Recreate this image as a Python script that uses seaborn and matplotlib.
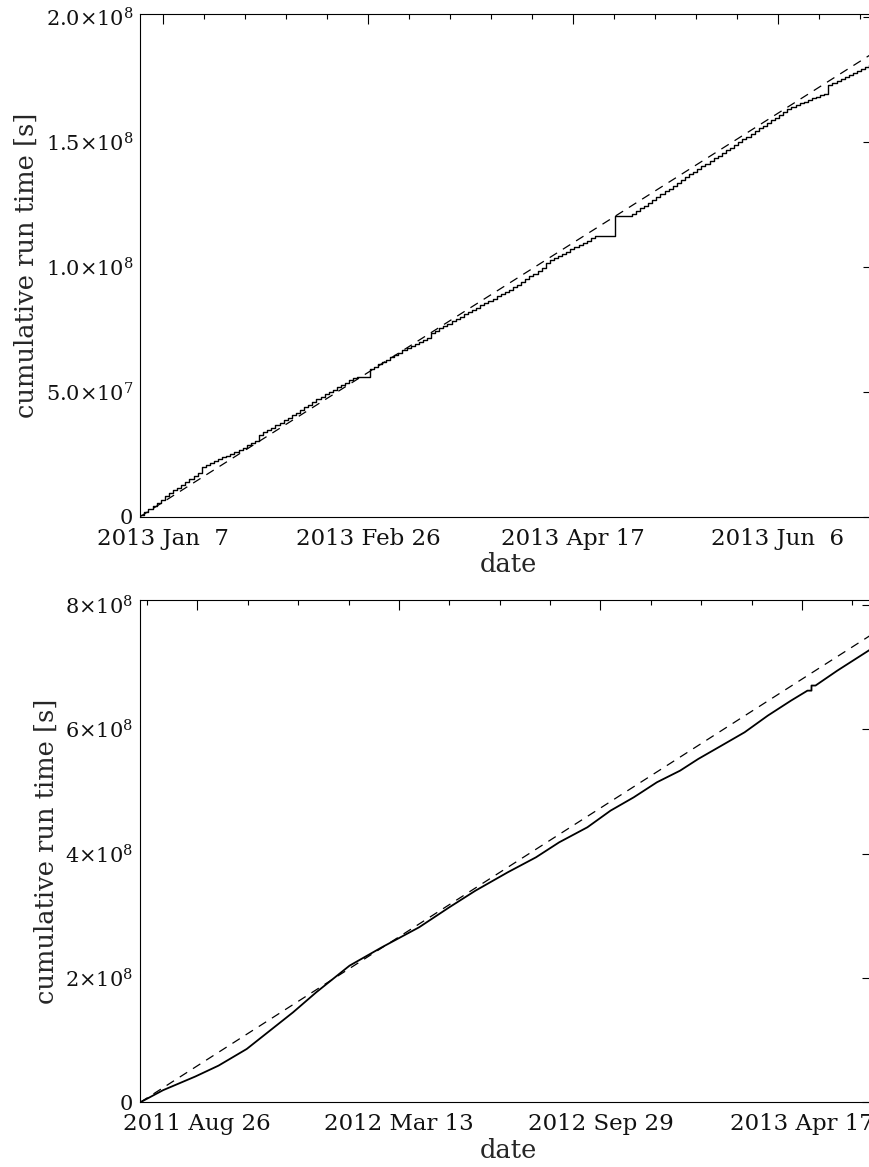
import numpy as np
import pandas as pd
import matplotlib
matplotlib.use("Agg")
import matplotlib.pyplot as plt
import matplotlib.dates as mdates
from matplotlib.ticker import MultipleLocator, FixedLocator, FuncFormatter
import seaborn as sns

# ---------------- data ----------------
# Top panel: run time added per day (units of 1e6 s), one value per day starting 2013-01-01 09:00
top_start = "2013-01-01 09:00"
top_daily_run_1e6 = [
    0.6,
    1.3, 1.2, 1.3, 1.2, 1.2, 1.3, 1.2,
    1.2, 1.1, 1.2, 1.2, 1.1, 1.2, 1.2,
    2.4,
    0.8, 0.7, 0.8, 0.7, 0.8, 0.7, 0.8, 0.7, 0.8,
    0.9, 0.9, 0.9, 0.9,
    2.4,
    1.0, 0.9, 1.0, 1.0, 0.9, 1.0, 1.0,
    1.1, 1.0, 1.1, 1.0, 1.1, 1.0, 1.1, 1.0,
    1.0, 0.9, 1.0, 0.9, 1.0, 0.9, 1.0, 0.9,
    0.2, 0.0, 0.0,
    3.4,
    0.9, 1.0, 0.9, 0.9, 1.0, 0.9, 0.9, 1.0, 0.9,
    0.8, 0.8, 0.8, 0.8, 0.8,
    1.9,
    0.9, 1.0, 0.9, 1.0, 0.9, 1.0, 0.9,
    1.0, 0.9,
    0.9, 0.8, 1.0, 0.9, 0.9, 0.8, 1.0, 0.9, 0.9, 0.8, 1.0, 0.9,
    1.1, 1.2, 1.1, 1.1, 1.2, 1.1,
    2.1,
    0.9, 0.9, 0.9, 0.8, 0.9, 0.9, 0.9, 0.9, 0.8, 0.9, 0.9, 0.9,
    0.0, 0.0, 0.0, 0.0,
    8.2,
    0.0, 0.0, 0.0,
    0.6,
    1.1, 1.2, 1.1, 1.1, 1.2, 1.1, 1.1, 1.2, 1.1, 1.2, 1.1, 1.1, 1.2, 1.1, 1.1,
    1.1, 1.1, 1.0, 1.1, 1.1, 1.0, 1.1, 1.1, 1.0, 1.1, 1.1, 1.1, 1.1,
    1.1, 1.1, 1.1, 1.1, 1.0, 1.1, 1.1, 1.1, 1.1, 1.1, 1.1,
    0.7, 0.6, 0.7, 0.6, 0.7, 0.7, 0.6, 0.7,
    3.4,
    0.8, 0.9, 0.8, 0.8, 0.8, 0.9, 0.8, 0.8, 0.8, 0.8,
    0.8, 0.8,
]
top_ideal_dates = ["2013-01-01 09:00", "2013-06-30 09:00"]
top_ideal_1e6 = [0.0, 186.6]
top_xlim = ["2013-01-01 09:00", "2013-06-30 09:00"]
top_ylim = [0.0, 2.01e8]
top_major_dates = ["2013-01-07", "2013-02-26", "2013-04-17", "2013-06-06"]
top_yticks = [0.0, 0.5e8, 1.0e8, 1.5e8, 2.0e8]
top_yticklabels = ["0", r"5.0×10$^{7}$", r"1.0×10$^{8}$", r"1.5×10$^{8}$", r"2.0×10$^{8}$"]

# Bottom panel: cumulative run time (units of 1e6 s)
bottom_dates = [
    "2011-06-30 09:00", "2011-07-23 00:00", "2011-08-24 00:00", "2011-09-16 00:00", "2011-10-14 00:00",
    "2011-11-06 00:00", "2011-11-29 00:00", "2011-12-22 00:00", "2012-01-24 00:00", "2012-02-25 00:00",
    "2012-04-02 00:00", "2012-05-02 00:00", "2012-05-28 00:00", "2012-06-29 00:00", "2012-07-27 00:00",
    "2012-08-19 00:00", "2012-09-16 00:00", "2012-10-09 00:00", "2012-11-01 00:00", "2012-11-24 00:00",
    "2012-12-17 00:00", "2013-01-04 00:00", "2013-01-27 00:00", "2013-02-19 00:00", "2013-03-14 00:00",
    "2013-04-06 00:00", "2013-04-22 09:00", "2013-04-26 09:00", "2013-04-26 09:00",
    "2013-04-30 09:00", "2013-05-22 00:00", "2013-06-23 00:00", "2013-06-30 09:00",
]
bottom_cum_1e6 = [
    0.0, 19.5, 41.5, 59.0, 85.8,
    115.3, 144.8, 177.0, 219.8, 249.3,
    281.5, 313.7, 340.5, 370.0, 394.1,
    418.2, 442.4, 469.2, 490.6, 514.8,
    533.5, 552.3, 573.7, 595.2, 622.0,
    646.1, 662.2, 662.2, 670.4,
    670.4, 694.4, 727.6, 735.0,
]
bottom_ideal_dates = ["2011-06-30 09:00", "2013-06-30 09:00"]
bottom_ideal_1e6 = [0.0, 757.9]
bottom_xlim = ["2011-06-30 09:00", "2013-06-30 09:00"]
bottom_ylim = [0.0, 8.08e8]
bottom_major_dates = ["2011-08-26", "2012-03-13", "2012-09-29", "2013-04-17"]
bottom_yticks = [0.0, 2e8, 4e8, 6e8, 8e8]
bottom_yticklabels = ["0", r"2×10$^{8}$", r"4×10$^{8}$", r"6×10$^{8}$", r"8×10$^{8}$"]

ylabel_text = "cumulative run time [s]"
xlabel_text = "date"

# ---------------- style ----------------
sns.set_theme(style="white")
plt.rcParams["font.family"] = ["DejaVu Serif"]
plt.rcParams["mathtext.fontset"] = "dejavuserif"
plt.rcParams["axes.linewidth"] = 0.8
plt.rcParams["axes.edgecolor"] = "black"
plt.rcParams["text.color"] = "#111111"
plt.rcParams["xtick.color"] = "black"
plt.rcParams["ytick.color"] = "black"
plt.rcParams["xtick.labelcolor"] = "#111111"
plt.rcParams["ytick.labelcolor"] = "#111111"

XTICK_FS = 16.5
YTICK_FS = 15
LABEL_FS = 18.5

fig = plt.figure(figsize=(8.69, 11.67), dpi=100)
W, H = 869.0, 1167.0
ax_top = fig.add_axes([140.3 / W, 1 - 516.5 / H, (877.5 - 140.3) / W, (516.5 - 14.3) / H])
ax_bot = fig.add_axes([140.3 / W, 1 - 1102.3 / H, (877.0 - 140.3) / W, (1102.3 - 600.0) / H])


def to_dt(lst):
    return pd.to_datetime(lst, format="ISO8601")


top_dates = pd.date_range(top_start, periods=len(top_daily_run_1e6), freq="D")
top_df = pd.DataFrame({"date": top_dates,
                       "cum": np.cumsum(np.array(top_daily_run_1e6)) * 1e6})
top_ideal_df = pd.DataFrame({"date": to_dt(top_ideal_dates),
                             "cum": np.array(top_ideal_1e6) * 1e6})
bot_df = pd.DataFrame({"date": to_dt(bottom_dates),
                       "cum": np.array(bottom_cum_1e6) * 1e6})
bot_ideal_df = pd.DataFrame({"date": to_dt(bottom_ideal_dates),
                             "cum": np.array(bottom_ideal_1e6) * 1e6})

dash_style = (0, (7, 5.5))

sns.lineplot(data=top_ideal_df, x="date", y="cum", ax=ax_top, color="black",
             lw=0.9, linestyle=dash_style, estimator=None, sort=False)
sns.lineplot(data=top_df, x="date", y="cum", ax=ax_top, color="black",
             lw=1.0, drawstyle="steps-post", estimator=None, sort=False)

sns.lineplot(data=bot_ideal_df, x="date", y="cum", ax=ax_bot, color="black",
             lw=0.9, linestyle=dash_style, estimator=None, sort=False)
sns.lineplot(data=bot_df, x="date", y="cum", ax=ax_bot, color="black",
             lw=1.3, estimator=None, sort=False)


def date_fmt(x, pos=None):
    d = mdates.num2date(x)
    return f"{d.year} {d:%b} {d.day:2d}"


def style_axes(ax, xlim, ylim, major_dates, major_base, minor_base,
               yticks, yticklabels, yminor):
    ax.set_xlim(to_dt(xlim)[0], to_dt(xlim)[1])
    ax.set_ylim(*ylim)
    first = mdates.date2num(to_dt(major_dates)[0])
    ax.xaxis.set_major_locator(MultipleLocator(major_base, offset=first % major_base))
    ax.xaxis.set_minor_locator(MultipleLocator(minor_base, offset=first % minor_base))
    ax.xaxis.set_major_formatter(FuncFormatter(date_fmt))
    ax.yaxis.set_major_locator(FixedLocator(yticks))
    ax.set_yticklabels(yticklabels)
    ax.yaxis.set_minor_locator(MultipleLocator(yminor))
    ax.tick_params(axis="both", which="both", direction="in", top=True, right=True,
                   width=0.8)
    ax.tick_params(axis="x", which="major", length=7.2, pad=8, labelsize=XTICK_FS)
    ax.tick_params(axis="x", which="minor", length=3.6)
    ax.tick_params(axis="y", which="major", length=10.8, pad=5, labelsize=YTICK_FS)
    ax.tick_params(axis="y", which="minor", length=5.4)
    ax.set_xlabel(xlabel_text, fontsize=LABEL_FS, labelpad=2)
    ax.set_ylabel(ylabel_text, fontsize=LABEL_FS, labelpad=5)
    for s in ax.spines.values():
        s.set_visible(True)
        s.set_color("black")
        s.set_linewidth(0.8)
    ax.grid(False)


style_axes(ax_top, top_xlim, top_ylim, top_major_dates, 50, 10,
           top_yticks, top_yticklabels, 1e7)
style_axes(ax_bot, bottom_xlim, bottom_ylim, bottom_major_dates, 200, 50,
           bottom_yticks, bottom_yticklabels, 5e7)

fig.savefig("out.png", dpi=100)
